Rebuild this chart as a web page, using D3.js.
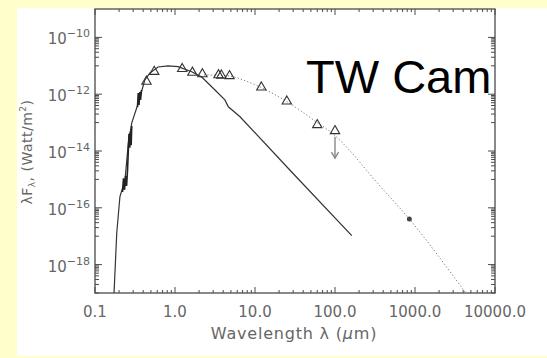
<!DOCTYPE html>
<html>
<head>
<meta charset="utf-8">
<script src="https://cdn.jsdelivr.net/npm/d3@7"></script>
<style>
  html, body { margin: 0; padding: 0; background: #ffffcc; }
  svg { display: block; }
</style>
</head>
<body>
<div id="vis"></div>
<script>
// SED of TW Cam: stellar model (solid), UV spectra, photometry (triangles), dust fit (dotted)

const xTicks = [0.1, 1, 10, 100, 1000, 10000];
const xTickLabels = ["0.1", "1.0", "10.0", "100.0", "1000.0", "10000.0"];
const yTickExps = [-10, -12, -14, -16, -18];

// photosphere model
const modelWave = [0.173, 0.187, 0.205, 0.237, 0.261, 0.288, 0.348, 0.42, 0.487, 0.613, 0.818, 1.09, 1.62, 2.16, 3.16, 4.2, 4.64, 6.5, 27.4, 162];
const modelFlux = [1e-19, 1.3e-17, 2.5e-16, 9.5e-16, 1.9e-14, 9.8e-14, 4.9e-13, 3.2e-12, 5.6e-12, 9.1e-12, 1.0e-11, 9.3e-12, 6.2e-12, 4.0e-12, 1.4e-12, 6.3e-13, 3.6e-13, 1.6e-13, 2.1e-15, 1.05e-17];

// UV spectra (two pieces, null = gap)
const specWave = [0.221, 0.227, 0.234, 0.241, 0.248, 0.255, 0.261, 0.266, 0.272, 0.278, 0.283, 0.288, null, 0.340, 0.347, 0.355, 0.363, 0.371, 0.381];
const specFlux = [3.6e-16, 1.1e-15, 4.3e-16, 1.3e-15, 5.9e-16, 2.1e-15, 1.1e-14, 4.0e-14, 1.3e-14, 4.7e-14, 1.6e-14, 7.6e-14, null, 3.5e-13, 1.1e-12, 4.2e-13, 1.2e-12, 6.3e-13, 1.4e-12];

// photometry
const photWave = [0.44, 0.55, 1.23, 1.65, 2.2, 3.5, 3.8, 4.8, 12, 25, 60, 100];
const photFlux = [2.8e-12, 6.2e-12, 7.8e-12, 5.8e-12, 5.1e-12, 4.7e-12, 4.6e-12, 4.4e-12, 1.74e-12, 5.6e-13, 8.3e-14, 5.1e-14];

// dust fit
const fitWave = [2.3, 4.7, 7.5, 11.8, 25, 60, 100, 150, 300, 850, 4300];
const fitFlux = [4.8e-12, 4.4e-12, 3.0e-12, 1.74e-12, 5.5e-13, 1.0e-13, 3.5e-14, 1.1e-14, 1.1e-15, 4.0e-17, 1e-19];

// submm point and upper-limit arrow
const mmWave = [850];
const mmFlux = [4.0e-17];
const limitWave = 100;
const limitFlux = [3.2e-14, 5.6e-15];

const W = 547, H = 358;
const svg = d3.select("#vis").append("svg")
  .attr("width", W).attr("height", H);

svg.append("rect").attr("x", 17).attr("y", 8).attr("width", W - 17).attr("height", 348).attr("fill", "#fff");

const pLeft = 95, pRight = 495, pTop = 9, pBottom = 293;
const x = d3.scaleLog().domain([0.1, 10000]).range([pLeft, pRight]);
const y = d3.scaleLog().domain([1e-19, 1e-9]).range([pBottom, pTop]);

const axisCol = "#4a4a4a", textCol = "#666";
const g = svg.append("g");

// clip for data
svg.append("clipPath").attr("id", "clip").append("rect")
  .attr("x", pLeft).attr("y", pTop).attr("width", pRight - pLeft).attr("height", pBottom - pTop);

// ticks: x
const xMinor = [];
for (let e = -1; e < 4; e++) for (let k = 2; k <= 9; k++) xMinor.push(k * Math.pow(10, e));
const tickG = g.append("g").attr("stroke", axisCol).attr("stroke-width", 1);
xTicks.forEach(v => {
  tickG.append("line").attr("x1", x(v)).attr("x2", x(v)).attr("y1", pBottom).attr("y2", pBottom - 6);
  tickG.append("line").attr("x1", x(v)).attr("x2", x(v)).attr("y1", pTop).attr("y2", pTop + 6);
});
xMinor.forEach(v => {
  tickG.append("line").attr("x1", x(v)).attr("x2", x(v)).attr("y1", pBottom).attr("y2", pBottom - 3);
  tickG.append("line").attr("x1", x(v)).attr("x2", x(v)).attr("y1", pTop).attr("y2", pTop + 3);
});

// ticks: y (minor ticks k*10^odd)
const yMinor = [];
[-19, -17, -15, -13, -11].forEach(e => { for (let k = 1; k <= 9; k++) yMinor.push(k * Math.pow(10, e)); });
yTickExps.forEach(e => {
  const yy = y(Math.pow(10, e));
  tickG.append("line").attr("x1", pLeft).attr("x2", pLeft + 7).attr("y1", yy).attr("y2", yy);
  tickG.append("line").attr("x1", pRight).attr("x2", pRight - 7).attr("y1", yy).attr("y2", yy);
});
yMinor.forEach(v => {
  const yy = y(v);
  tickG.append("line").attr("x1", pLeft).attr("x2", pLeft + 4).attr("y1", yy).attr("y2", yy);
  tickG.append("line").attr("x1", pRight).attr("x2", pRight - 4).attr("y1", yy).attr("y2", yy);
});

// frame
g.append("rect").attr("x", pLeft).attr("y", pTop).attr("width", pRight - pLeft).attr("height", pBottom - pTop)
  .attr("fill", "none").attr("stroke", axisCol).attr("stroke-width", 1.3);

// tick labels
g.selectAll(".xl").data(xTicks).join("text")
  .attr("x", d => x(d)).attr("y", 317)
  .attr("text-anchor", "middle")
  .attr("font-family", "DejaVu Sans").attr("font-size", 15).attr("fill", textCol)
  .text((d, i) => xTickLabels[i]);

const yl = g.selectAll(".yl").data(yTickExps).join("text")
  .attr("x", 90).attr("y", d => y(Math.pow(10, d)) + 7)
  .attr("text-anchor", "end")
  .attr("font-family", "DejaVu Sans").attr("font-size", 15).attr("fill", textCol);
yl.append("tspan").text("10");
yl.append("tspan").attr("dy", -7).attr("font-size", 11).text(d => "\u2212" + Math.abs(d));

// axis titles
const xt = g.append("text").attr("x", 294).attr("y", 339).attr("text-anchor", "middle")
  .attr("font-family", "DejaVu Sans").attr("font-size", 16).attr("fill", textCol)
  .attr("letter-spacing", 0.8);
xt.append("tspan").text("Wavelength \u03bb (");
xt.append("tspan").attr("font-style", "italic").text("\u03bc");
xt.append("tspan").text("m)");

const yt = g.append("text").attr("transform", "translate(32,152) rotate(-90)")
  .attr("text-anchor", "middle")
  .attr("font-family", "DejaVu Sans").attr("font-size", 14).attr("fill", textCol)
  .attr("letter-spacing", 0.5);
yt.append("tspan").text("\u03bbF");
yt.append("tspan").attr("dy", 3).attr("font-size", 9).text("\u03bb");
yt.append("tspan").attr("dy", -3).text(",  (Watt/m");
yt.append("tspan").attr("dy", -6).attr("font-size", 9).text("2");
yt.append("tspan").attr("dy", 6).text(")");

// data
const plot = svg.append("g").attr("clip-path", "url(#clip)");
const line = d3.line().x(d => x(d[0])).y(d => y(d[1]));

plot.append("path")
  .datum(fitWave.map((w, i) => [w, fitFlux[i]]))
  .attr("d", line.curve(d3.curveMonotoneX))
  .attr("fill", "none").attr("stroke", "#777").attr("stroke-width", 1)
  .attr("stroke-dasharray", "1.2,2.2");

plot.append("path")
  .datum(modelWave.map((w, i) => [w, modelFlux[i]]))
  .attr("d", d3.line().x(d => x(d[0])).y(d => y(d[1])))
  .attr("fill", "none").attr("stroke", "#333").attr("stroke-width", 1.2);

plot.append("path")
  .datum(specWave.map((w, i) => [w, specFlux[i]]))
  .attr("d", d3.line().defined(d => d[0] !== null).x(d => x(d[0])).y(d => y(d[1])))
  .attr("fill", "none").attr("stroke", "#222").attr("stroke-width", 1.6);

const tri = d3.symbol().type(d3.symbolTriangle).size(38);
plot.selectAll(".tri").data(photWave.map((w, i) => [w, photFlux[i]])).join("path")
  .attr("transform", d => `translate(${x(d[0])},${y(d[1])})`)
  .attr("d", tri)
  .attr("fill", "none").attr("stroke", "#333").attr("stroke-width", 1.1);

plot.selectAll(".mm").data(mmWave.map((w, i) => [w, mmFlux[i]])).join("circle")
  .attr("cx", d => x(d[0])).attr("cy", d => y(d[1])).attr("r", 2.5)
  .attr("fill", "#444");

// upper limit arrow
const ax = x(limitWave), ay0 = y(limitFlux[0]), ay1 = y(limitFlux[1]);
plot.append("line").attr("x1", ax).attr("x2", ax).attr("y1", ay0).attr("y2", ay1)
  .attr("stroke", "#888").attr("stroke-width", 1.4);
plot.append("path")
  .attr("d", `M${ax - 3.5},${ay1 - 6}L${ax},${ay1}L${ax + 3.5},${ay1 - 6}`)
  .attr("fill", "none").attr("stroke", "#888").attr("stroke-width", 1.4);

// title
svg.append("text").attr("x", 306).attr("y", 93)
  .attr("font-family", "Liberation Sans, Arial, sans-serif").attr("font-size", 47)
  .attr("fill", "#000").text("TW Cam");
</script>
</body>
</html>
